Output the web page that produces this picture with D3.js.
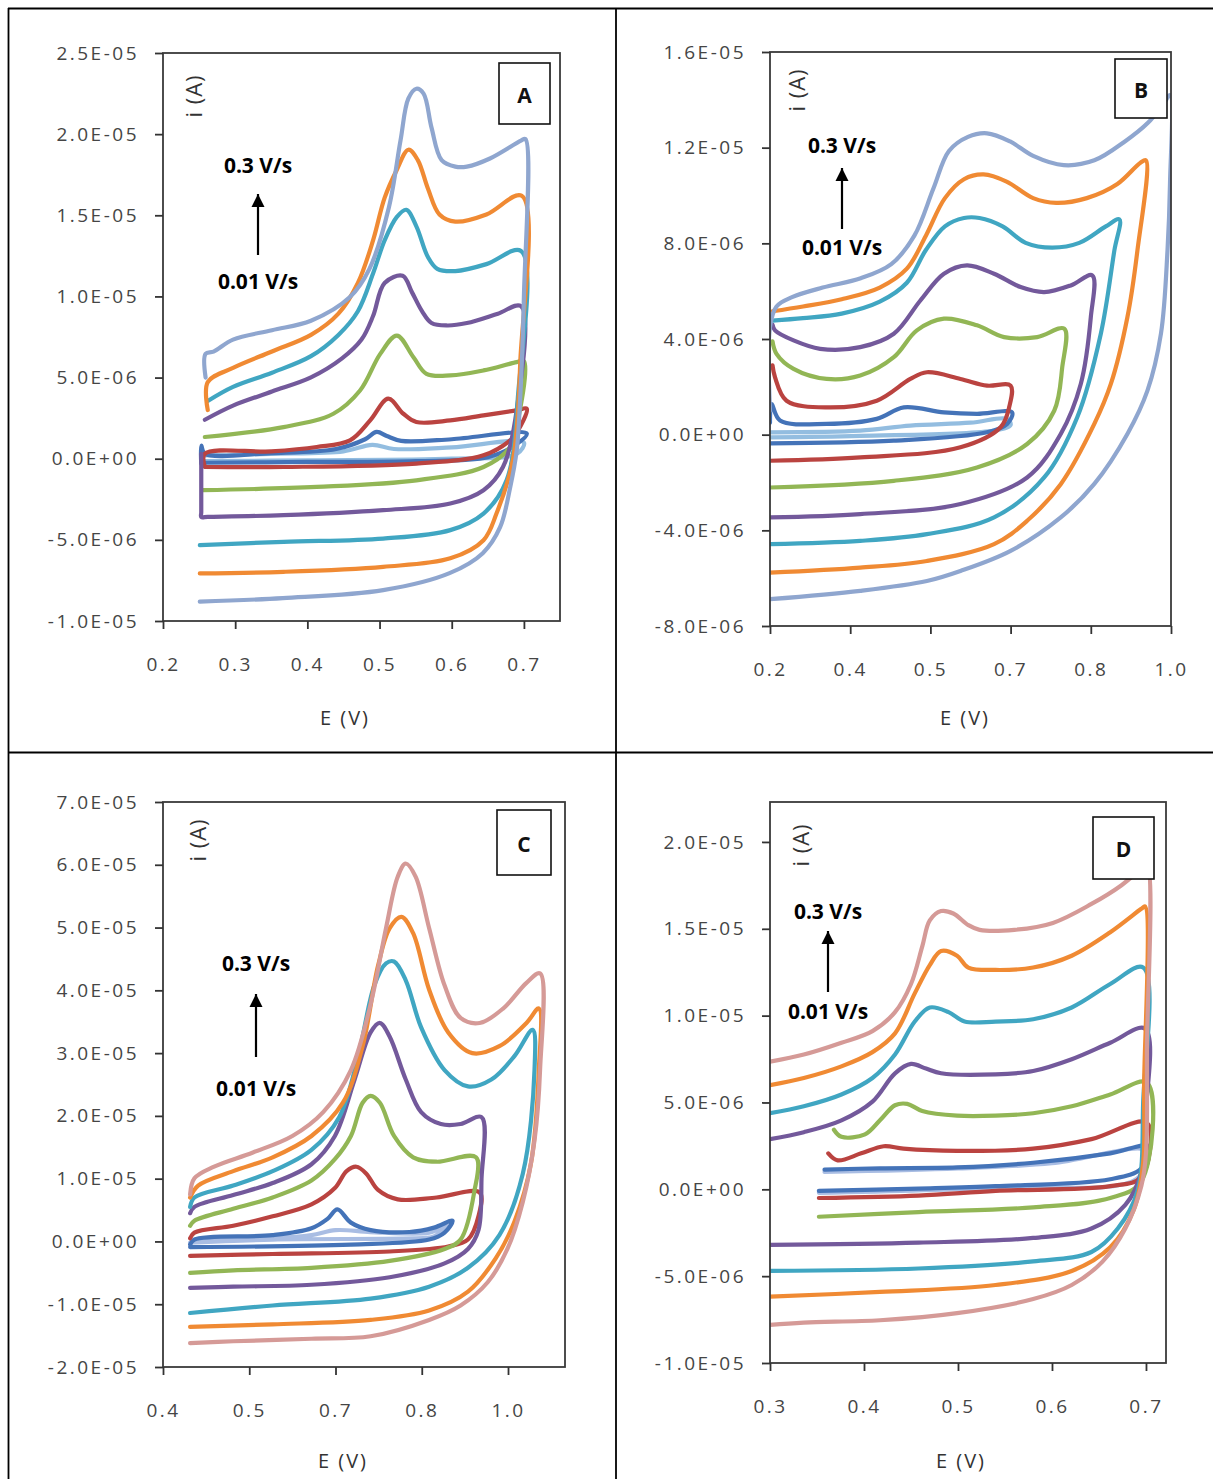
<!DOCTYPE html>
<html><head><meta charset="utf-8">
<script src="https://cdn.jsdelivr.net/npm/d3@7"></script>
<style>
html,body{margin:0;padding:0;background:#fff;}
svg{display:block;}
.tick text{font-family:"Open Sans",sans-serif;font-size:19px;fill:#454545;letter-spacing:2.5px;}
.tick line{stroke:#333;stroke-width:1.8px;}
</style>
</head><body>
<svg id="chart" width="1213" height="1479"></svg>
<script>
// ---------------- DATA (current in µA, potential in V) ----------------
const rateTop = "0.3 V/s";
const rateBottom = "0.01 V/s";
const panelLetters = ["A","B","C","D"];

// Panel A
const A_xTicks = [0.2,0.3,0.4,0.5,0.6,0.7];
const A_xLabels = ["0.2","0.3","0.4","0.5","0.6","0.7"];
const A_yTicks = [-10,-5,0,5,10,15,20,25];
const A_yLabels = ["-1.0E-05","-5.0E-06","0.0E+00","5.0E-06","1.0E-05","1.5E-05","2.0E-05","2.5E-05"];
const A_s1 = [[0.258,0.2],[0.35,0.3],[0.45,0.45],[0.49,0.85],[0.52,0.6],[0.6,0.7],[0.70,1.0],[0.69,0.3],[0.6,0.0],[0.4,-0.1],[0.258,-0.15]];
const A_s2 = [[0.253,-0.3],[0.253,0.8],[0.258,0.3],[0.35,0.35],[0.44,0.6],[0.48,1.2],[0.496,1.65],[0.51,1.4],[0.53,1.1],[0.6,1.2],[0.704,1.55],[0.69,0.9],[0.65,0.1],[0.55,-0.15],[0.4,-0.2],[0.258,-0.25]];
const A_s3 = [[0.258,-0.5],[0.258,0.31],[0.35,0.45],[0.413,0.72],[0.459,1.13],[0.487,2.36],[0.512,3.70],[0.533,2.77],[0.551,2.26],[0.598,2.36],[0.644,2.67],[0.690,2.98],[0.704,3.08],[0.69,1.6],[0.681,1.13],[0.644,0.21],[0.551,-0.30],[0.367,-0.51],[0.258,-0.51]];
const A_s4 = [[0.258,1.34],[0.367,1.95],[0.436,2.77],[0.473,4.2],[0.501,6.46],[0.524,7.59],[0.547,6.25],[0.565,5.23],[0.598,5.13],[0.644,5.44],[0.690,5.95],[0.70,6.0],[0.69,2.0],[0.681,0.72],[0.644,-0.51],[0.551,-1.33],[0.413,-1.74],[0.255,-1.94]];
const A_s5 = [[0.258,2.4],[0.297,3.27],[0.351,4.14],[0.405,5.01],[0.448,6.18],[0.475,7.34],[0.491,8.79],[0.507,10.83],[0.532,11.27],[0.545,10.25],[0.559,9.08],[0.572,8.36],[0.594,8.21],[0.621,8.36],[0.664,8.94],[0.696,9.4],[0.69,3],[0.671,-0.51],[0.644,-1.94],[0.598,-2.76],[0.505,-3.17],[0.367,-3.48],[0.262,-3.58],[0.253,-3.59],[0.253,-3.3],[0.253,0.3]];
const A_s6 = [[0.262,3.56],[0.297,4.43],[0.351,5.3],[0.405,6.32],[0.443,7.63],[0.470,9.09],[0.491,11.41],[0.507,13.45],[0.524,14.9],[0.537,15.34],[0.551,14.32],[0.567,12.43],[0.580,11.7],[0.605,11.56],[0.648,11.99],[0.696,12.8],[0.692,4],[0.676,-1.33],[0.644,-3.38],[0.598,-4.4],[0.505,-4.92],[0.367,-5.12],[0.251,-5.33]];
const A_s7 = [[0.262,3.0],[0.262,4.72],[0.297,5.6],[0.351,6.61],[0.405,7.63],[0.443,8.94],[0.470,10.83],[0.491,13.45],[0.507,16.07],[0.524,17.81],[0.540,19.04],[0.553,18.4],[0.567,16.65],[0.583,15.05],[0.605,14.61],[0.648,15.05],[0.697,16.2],[0.695,6],[0.685,0],[0.662,-3.38],[0.644,-5.02],[0.598,-6.14],[0.505,-6.66],[0.367,-6.97],[0.251,-7.07]];
const A_s8 = [[0.259,5.0],[0.259,6.47],[0.27,6.6],[0.297,7.34],[0.351,7.92],[0.405,8.5],[0.459,9.96],[0.486,11.7],[0.513,15.5],[0.529,19.6],[0.540,22.2],[0.551,22.8],[0.561,22.5],[0.572,20.4],[0.586,18.4],[0.605,18.0],[0.621,18.0],[0.653,18.5],[0.696,19.6],[0.702,19.7],[0.700,10],[0.694,3],[0.690,0.5],[0.681,-1.76],[0.667,-4.22],[0.643,-5.82],[0.597,-7.05],[0.505,-8.1],[0.366,-8.59],[0.251,-8.81]];

// Panel B
const B_xTicks = [0.2,0.36,0.52,0.68,0.84,1.0];
const B_xLabels = ["0.2","0.4","0.5","0.7","0.8","1.0"];
const B_yTicks = [-8,-4,0,4,8,12,16];
const B_yLabels = ["-8.0E-06","-4.0E-06","0.0E+00","4.0E-06","8.0E-06","1.2E-05","1.6E-05"];
const B_s1 = [[0.2,0.1],[0.38,0.17],[0.48,0.38],[0.60,0.5],[0.673,0.66],[0.68,0.4],[0.647,0.17],[0.38,-0.05],[0.2,-0.11]];
const B_s2 = [[0.2,0.5],[0.203,1.28],[0.22,0.59],[0.313,0.45],[0.413,0.66],[0.467,1.14],[0.547,0.93],[0.613,0.87],[0.683,0.93],[0.673,0.45],[0.633,0.10],[0.447,-0.25],[0.2,-0.36]];
const B_s3 = [[0.205,2.9],[0.21,2.4],[0.233,1.42],[0.313,1.14],[0.413,1.42],[0.48,2.33],[0.513,2.61],[0.58,2.33],[0.633,2.05],[0.68,2.05],[0.677,1.14],[0.66,0.31],[0.58,-0.53],[0.38,-0.95],[0.2,-1.09]];
const B_s4 = [[0.205,3.9],[0.213,3.38],[0.247,2.75],[0.313,2.33],[0.38,2.47],[0.447,3.24],[0.493,4.36],[0.547,4.85],[0.613,4.57],[0.667,4.08],[0.733,4.08],[0.787,4.43],[0.783,2.82],[0.767,1.0],[0.713,-0.39],[0.613,-1.37],[0.447,-1.93],[0.2,-2.21]];
const B_s5 = [[0.205,4.6],[0.21,4.36],[0.247,3.94],[0.30,3.59],[0.38,3.66],[0.447,4.22],[0.50,5.61],[0.547,6.73],[0.593,7.08],[0.647,6.73],[0.70,6.17],[0.747,5.96],[0.80,6.24],[0.843,6.66],[0.84,4.91],[0.82,2.12],[0.78,0.03],[0.713,-1.79],[0.58,-2.9],[0.38,-3.32],[0.2,-3.46]];
const B_s6 = [[0.205,4.77],[0.266,4.87],[0.343,5.06],[0.419,5.56],[0.473,6.35],[0.511,7.72],[0.549,8.71],[0.587,9.06],[0.618,9.06],[0.664,8.71],[0.710,8.02],[0.763,7.82],[0.817,8.02],[0.870,8.71],[0.897,9.0],[0.887,7.7],[0.86,4.22],[0.813,0.73],[0.747,-1.79],[0.647,-3.46],[0.513,-4.16],[0.38,-4.44],[0.2,-4.58]];
const B_s7 = [[0.205,5.16],[0.266,5.36],[0.343,5.66],[0.419,6.15],[0.473,6.94],[0.511,8.32],[0.549,9.89],[0.587,10.68],[0.626,10.88],[0.672,10.58],[0.725,9.89],[0.771,9.69],[0.832,9.89],[0.893,10.48],[0.939,11.37],[0.950,11.47],[0.933,7.7],[0.913,4.91],[0.88,2.12],[0.847,0.45],[0.78,-2.07],[0.713,-3.6],[0.647,-4.58],[0.513,-5.28],[0.38,-5.56],[0.2,-5.77]];
const B_s8 = [[0.2,1.0],[0.2,4.5],[0.213,5.36],[0.244,5.75],[0.305,6.15],[0.381,6.54],[0.442,7.13],[0.488,8.32],[0.526,10.29],[0.557,11.86],[0.595,12.45],[0.633,12.6],[0.679,12.26],[0.725,11.66],[0.786,11.27],[0.847,11.47],[0.908,12.26],[0.954,13.04],[0.985,13.83],[0.998,14.2],[0.998,10.5],[0.993,7.7],[0.98,4.23],[0.953,1.84],[0.913,0.03],[0.847,-2.06],[0.78,-3.46],[0.68,-4.86],[0.58,-5.7],[0.513,-6.12],[0.38,-6.53],[0.2,-6.88]];

// Panel C
const C_xTicks = [0.4,0.54,0.68,0.82,0.96];
const C_xLabels = ["0.4","0.5","0.7","0.8","1.0"];
const C_yTicks = [-20,-10,0,10,20,30,40,50,60,70];
const C_yLabels = ["-2.0E-05","-1.0E-05","0.0E+00","1.0E-05","2.0E-05","3.0E-05","4.0E-05","5.0E-05","6.0E-05","7.0E-05"];
const C_s1 = [[0.444,-0.2],[0.451,0.3],[0.578,0.5],[0.641,1.0],[0.68,1.8],[0.737,1.5],[0.832,1.4],[0.863,2.5],[0.84,0.8],[0.832,0.6],[0.578,0.3],[0.444,-0.2]];
const C_s2 = [[0.444,-0.5],[0.451,0.3],[0.578,1.0],[0.641,2.1],[0.667,3.6],[0.683,5.1],[0.705,3.0],[0.737,1.8],[0.80,1.5],[0.84,2.2],[0.87,3.3],[0.857,1.4],[0.832,0.3],[0.705,-0.5],[0.444,-0.9]];
const C_s3 = [[0.444,0.5],[0.451,1.4],[0.514,2.5],[0.578,4.0],[0.641,5.9],[0.679,8.5],[0.698,11.2],[0.714,11.9],[0.730,10.8],[0.749,8.2],[0.781,6.7],[0.844,7.0],[0.914,7.8],[0.912,4],[0.895,0.3],[0.863,-0.8],[0.768,-1.6],[0.578,-2.0],[0.444,-2.3]];
const C_s4 = [[0.444,2.5],[0.451,3.3],[0.514,5.2],[0.578,7.0],[0.641,9.7],[0.679,13.1],[0.705,16.8],[0.724,22.1],[0.737,23.2],[0.752,22.1],[0.775,16.8],[0.806,13.4],[0.844,12.7],[0.908,13.4],[0.905,7.8],[0.883,0.3],[0.857,-1.2],[0.768,-3.1],[0.641,-4.2],[0.514,-4.6],[0.444,-5.0]];
const C_s5 = [[0.444,4.5],[0.451,5.5],[0.514,7.4],[0.578,9.3],[0.641,12.3],[0.679,16.8],[0.711,25.8],[0.737,33.3],[0.752,34.8],[0.768,32.6],[0.794,25.8],[0.819,20.6],[0.851,18.7],[0.883,18.7],[0.917,19.8],[0.917,10],[0.912,1.8],[0.895,-1.2],[0.857,-3.5],[0.768,-5.7],[0.641,-6.9],[0.514,-7.2],[0.444,-7.4]];
const C_s6 = [[0.444,5.5],[0.451,7.0],[0.514,8.9],[0.578,11.2],[0.641,14.6],[0.686,19.8],[0.717,29.6],[0.743,40.8],[0.762,44.3],[0.775,44.6],[0.794,41.6],[0.819,34.1],[0.857,27.3],[0.895,24.7],[0.933,25.8],[0.971,29.6],[1.0,33.7],[1.003,27.3],[0.984,10.8],[0.946,1.0],[0.895,-4.2],[0.832,-7.2],[0.737,-9.1],[0.578,-10.2],[0.444,-11.4]];
const C_s7 = [[0.444,7.0],[0.457,8.9],[0.514,11.2],[0.578,13.4],[0.641,16.8],[0.692,22.1],[0.724,31.1],[0.749,43.9],[0.768,49.9],[0.787,51.7],[0.806,49.1],[0.832,40.1],[0.863,33.3],[0.902,30.0],[0.946,31.1],[0.99,34.8],[1.01,37.1],[1.01,27.3],[0.997,12.3],[0.971,3.3],[0.94,-2.7],[0.895,-8.0],[0.832,-11.0],[0.737,-12.5],[0.578,-13.2],[0.444,-13.6]];
const C_s8 = [[0.444,7.5],[0.451,10.05],[0.483,11.92],[0.546,14.17],[0.61,16.8],[0.66,20.6],[0.705,27.3],[0.737,37.8],[0.762,49.9],[0.781,58.1],[0.794,60.2],[0.81,58.1],[0.832,49.9],[0.857,40.8],[0.883,35.6],[0.914,34.8],[0.952,37.1],[0.99,41.2],[1.012,42.7],[1.012,27.3],[1.003,16.1],[0.984,6.3],[0.959,-1.2],[0.927,-6.5],[0.883,-10.2],[0.832,-12.5],[0.737,-15.1],[0.641,-15.5],[0.514,-15.9],[0.444,-16.2]];

// Panel D
const D_xTicks = [0.3,0.4,0.5,0.6,0.7];
const D_xLabels = ["0.3","0.4","0.5","0.6","0.7"];
const D_yTicks = [-10,-5,0,5,10,15,20];
const D_yLabels = ["-1.0E-05","-5.0E-06","0.0E+00","5.0E-06","1.0E-05","1.5E-05","2.0E-05"];
const D_s1 = [[0.358,1.0],[0.5,1.2],[0.6,1.5],[0.701,2.2],[0.69,0.6],[0.54,0.1],[0.352,-0.2]];
const D_s2 = [[0.358,1.13],[0.417,1.21],[0.499,1.26],[0.58,1.53],[0.662,2.07],[0.703,2.48],[0.695,1.2],[0.662,0.58],[0.54,0.18],[0.458,0.04],[0.352,-0.09]];
const D_s3 = [[0.362,2.07],[0.372,1.67],[0.397,2.07],[0.421,2.48],[0.442,2.34],[0.499,2.21],[0.58,2.34],[0.642,2.89],[0.701,3.83],[0.695,0.72],[0.662,0.18],[0.54,-0.09],[0.458,-0.36],[0.352,-0.5]];
const D_s4 = [[0.368,3.43],[0.376,3.02],[0.401,3.16],[0.417,3.97],[0.433,4.84],[0.446,4.92],[0.462,4.51],[0.499,4.24],[0.54,4.24],[0.58,4.38],[0.621,4.78],[0.662,5.46],[0.701,6.14],[0.695,0.45],[0.662,-0.5],[0.58,-1.04],[0.458,-1.31],[0.352,-1.58]];
const D_s5 = [[0.3,2.89],[0.336,3.29],[0.376,3.97],[0.409,5.05],[0.433,6.68],[0.45,7.22],[0.466,6.95],[0.482,6.68],[0.54,6.62],[0.58,6.81],[0.621,7.49],[0.662,8.44],[0.699,9.25],[0.699,4],[0.695,0.99],[0.678,-0.9],[0.642,-2.26],[0.58,-2.8],[0.458,-3.07],[0.3,-3.2]];
const D_s6 = [[0.3,4.38],[0.336,4.78],[0.376,5.46],[0.409,6.41],[0.433,7.76],[0.454,9.66],[0.47,10.47],[0.49,10.2],[0.507,9.66],[0.54,9.66],[0.58,9.79],[0.621,10.47],[0.662,11.82],[0.697,12.77],[0.697,5],[0.691,-0.09],[0.67,-2.26],[0.642,-3.61],[0.58,-4.15],[0.458,-4.56],[0.3,-4.7]];
const D_s7 = [[0.3,6.0],[0.336,6.41],[0.376,7.08],[0.409,7.9],[0.433,8.98],[0.454,11.28],[0.47,12.91],[0.482,13.72],[0.499,13.45],[0.511,12.77],[0.54,12.63],[0.58,12.77],[0.621,13.45],[0.662,14.8],[0.695,16.15],[0.699,16.29],[0.698,6],[0.697,1.53],[0.687,-1.18],[0.662,-3.34],[0.621,-4.7],[0.54,-5.51],[0.417,-5.91],[0.3,-6.18]];
const D_s8 = [[0.3,7.35],[0.336,7.76],[0.376,8.44],[0.409,9.11],[0.433,10.2],[0.45,11.82],[0.462,13.99],[0.47,15.48],[0.482,16.02],[0.495,15.88],[0.511,15.21],[0.523,14.94],[0.56,14.94],[0.601,15.34],[0.642,16.43],[0.674,17.51],[0.695,18.46],[0.701,18.73],[0.701,8],[0.70,2.07],[0.695,0.18],[0.678,-2.26],[0.654,-4.15],[0.621,-5.51],[0.58,-6.32],[0.499,-7.13],[0.417,-7.54],[0.336,-7.67],[0.3,-7.81]];

// ---------------- LAYOUT / STYLE ----------------
const coloursAB = ["#93bde0","#4473b8","#ba4340","#92b655","#73599b","#40a6c2","#f08a33","#8fa6cf"];
const coloursCD = ["#a9bde3","#4473b8","#ba4340","#92b655","#73599b","#40a6c2","#f08a33","#d59a97"];

const panels = [
  {letter:"A", curves:[A_s1,A_s2,A_s3,A_s4,A_s5,A_s6,A_s7,A_s8], colours:coloursAB,
   xd:[0.2,0.75], yd:[-10,25], L:163, R:560, T:53, B:621,
   xt:A_xTicks, xl:A_xLabels, yt:A_yTicks, yl:A_yLabels,
   box:[499,63,51,61], eLab:[345,717], iLab:[193,96], ann:[258,165,281,194,255]},
  {letter:"B", curves:[B_s1,B_s2,B_s3,B_s4,B_s5,B_s6,B_s7,B_s8], colours:coloursAB,
   xd:[0.2,1.0], yd:[-8,16], L:770, R:1171, T:52, B:626,
   xt:B_xTicks, xl:B_xLabels, yt:B_yTicks, yl:B_yLabels,
   box:[1115,59,52,59], eLab:[965,717], iLab:[796,90], ann:[842,145,247,168,229]},
  {letter:"C", curves:[C_s1,C_s2,C_s3,C_s4,C_s5,C_s6,C_s7,C_s8], colours:coloursCD,
   xd:[0.4,1.0525], yd:[-20,70], L:163, R:565, T:802, B:1367,
   xt:C_xTicks, xl:C_xLabels, yt:C_yTicks, yl:C_yLabels,
   box:[497,810,54,65], eLab:[343,1460], iLab:[197,840], ann:[256,963,1088,994,1057]},
  {letter:"D", curves:[D_s1,D_s2,D_s3,D_s4,D_s5,D_s6,D_s7,D_s8], colours:coloursCD,
   xd:[0.3,0.7213], yd:[-10,22.3], L:770, R:1166, T:802, B:1363,
   xt:D_xTicks, xl:D_xLabels, yt:D_yTicks, yl:D_yLabels,
   box:[1093,817,61,62], eLab:[961,1460], iLab:[800,845], ann:[828,911,1011,931,992]}
];

const svg = d3.select("#chart");
svg.append("rect").attr("width",1213).attr("height",1479).attr("fill","#fff");

const defs = svg.append("defs");
defs.append("marker").attr("id","arrow").attr("viewBox","0 0 10 10")
  .attr("refX",10).attr("refY",5).attr("markerWidth",6).attr("markerHeight",6)
  .attr("markerUnits","strokeWidth").attr("orient","auto")
  .append("path").attr("d","M0,0 L10,5 L0,10 z").attr("fill","#000");

panels.forEach((p,pi) => {
  const x = d3.scaleLinear().domain(p.xd).range([p.L,p.R]);
  const y = d3.scaleLinear().domain(p.yd).range([p.B,p.T]);
  const g = svg.append("g");

  defs.append("clipPath").attr("id","clip"+pi)
    .append("rect").attr("x",p.L).attr("y",p.T).attr("width",p.R-p.L).attr("height",p.B-p.T);

  const line = d3.line().x(d=>x(d[0])).y(d=>y(d[1])).curve(d3.curveCatmullRom.alpha(0.5));
  const cg = g.append("g").attr("clip-path","url(#clip"+pi+")");
  p.curves.forEach((c,ci)=>{
    cg.append("path").attr("d",line(c)).attr("fill","none")
      .attr("stroke",p.colours[ci]).attr("stroke-width",4.2)
      .attr("stroke-linejoin","round").attr("stroke-linecap","round");
  });

  // plot frame
  g.append("rect").attr("x",p.L).attr("y",p.T).attr("width",p.R-p.L).attr("height",p.B-p.T)
    .attr("fill","none").attr("stroke","#3a3a3a").attr("stroke-width",1.8);

  // axes
  const yAxis = d3.axisLeft(y).tickValues(p.yt).tickFormat((d,i)=>p.yl[i]).tickSizeInner(8).tickSizeOuter(0).tickPadding(16);
  const ya = g.append("g").attr("transform",`translate(${p.L},0)`).call(yAxis);
  ya.select(".domain").remove();
  const xAxis = d3.axisBottom(x).tickValues(p.xt).tickFormat((d,i)=>p.xl[i]).tickSizeInner(8).tickSizeOuter(0);
  const xa = g.append("g").attr("transform",`translate(0,${p.B})`).call(xAxis);
  xa.select(".domain").remove();
  xa.selectAll(".tick text").attr("y",43).attr("dy","0.35em");

  // axis titles
  g.append("text").attr("x",p.eLab[0]).attr("y",p.eLab[1]).attr("text-anchor","middle")
    .attr("dominant-baseline","central").attr("font-family","Open Sans, sans-serif")
    .attr("font-size",20).attr("fill","#333").attr("letter-spacing","2px").text("E (V)");
  g.append("text").attr("transform",`translate(${p.iLab[0]},${p.iLab[1]}) rotate(-90)`)
    .attr("text-anchor","middle").attr("dominant-baseline","central").attr("font-family","Open Sans, sans-serif")
    .attr("font-size",22).attr("fill","#333").attr("letter-spacing","1px").text("i (A)");

  // letter box
  g.append("rect").attr("x",p.box[0]).attr("y",p.box[1]).attr("width",p.box[2]).attr("height",p.box[3])
    .attr("fill","#fff").attr("stroke","#111").attr("stroke-width",1.6);
  g.append("text").attr("x",p.box[0]+p.box[2]/2).attr("y",p.box[1]+p.box[3]/2+1)
    .attr("text-anchor","middle").attr("dominant-baseline","central")
    .attr("font-family","Open Sans, sans-serif").attr("font-weight","bold")
    .attr("font-size",21).attr("fill","#111").text(p.letter);

  // scan-rate annotation
  const [ax,ty,by,tipY,baseY] = p.ann;
  g.append("text").attr("x",ax).attr("y",ty).attr("text-anchor","middle").attr("dominant-baseline","central")
    .attr("font-family","Open Sans, sans-serif").attr("font-weight","bold").attr("font-size",21)
    .attr("fill","#000").text(rateTop);
  g.append("text").attr("x",ax).attr("y",by).attr("text-anchor","middle").attr("dominant-baseline","central")
    .attr("font-family","Open Sans, sans-serif").attr("font-weight","bold").attr("font-size",21)
    .attr("fill","#000").text(rateBottom);
  g.append("line").attr("x1",ax).attr("x2",ax).attr("y1",baseY).attr("y2",tipY)
    .attr("stroke","#000").attr("stroke-width",2.2).attr("marker-end","url(#arrow)");
});

// table grid (no right/bottom border in the reference crop)
const grid = svg.append("g").attr("stroke","#000").attr("stroke-width",1.8).attr("fill","none");
grid.append("line").attr("x1",8).attr("x2",1213).attr("y1",8.5).attr("y2",8.5);
grid.append("line").attr("x1",8.5).attr("x2",8.5).attr("y1",8).attr("y2",1479);
grid.append("line").attr("x1",616).attr("x2",616).attr("y1",8).attr("y2",1479);
grid.append("line").attr("x1",8).attr("x2",1213).attr("y1",752.5).attr("y2",752.5);
</script>
</body></html>
